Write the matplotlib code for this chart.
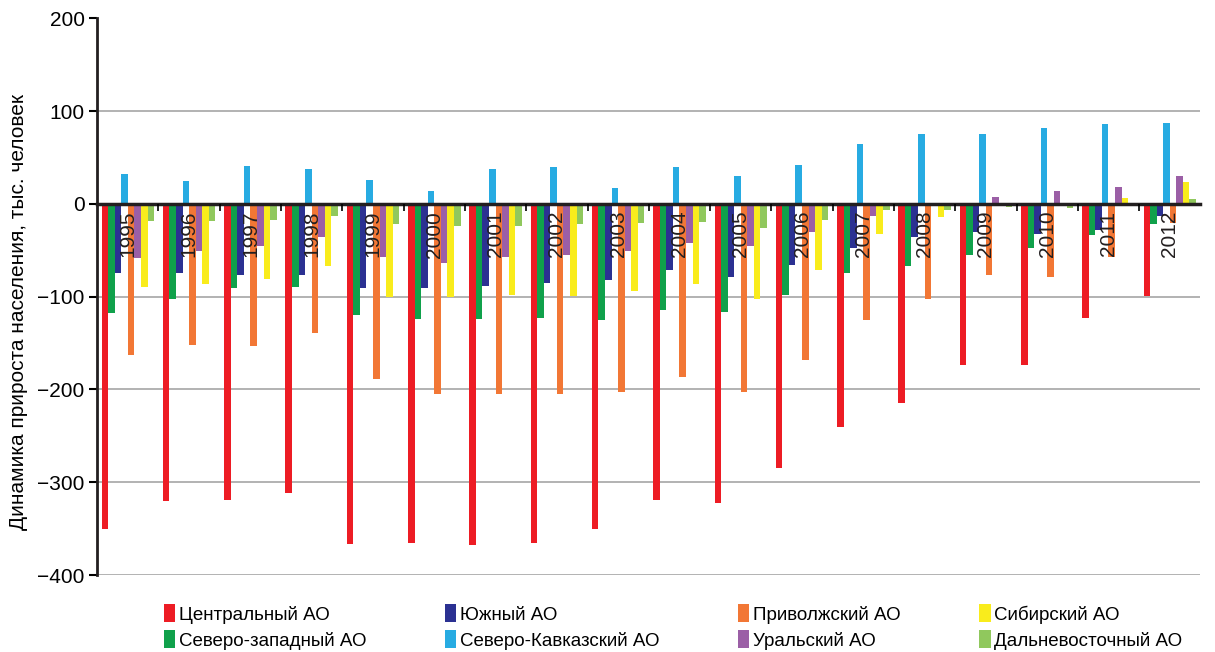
import matplotlib
matplotlib.use("Agg")
import matplotlib.pyplot as plt
import numpy as np

plt.rcParams['font.family'] = ['Liberation Sans', 'DejaVu Sans']

# data to plot
years = list(range(1995, 2013))
series = ['Центральный АО', 'Северо-западный АО', 'Южный АО', 'Северо-Кавказский АО',
          'Приволжский АО', 'Уральский АО', 'Сибирский АО', 'Дальневосточный АО']
central = [-350, -320, -319, -312, -366, -365, -368, -365, -350, -319, -322, -285, -240, -215, -174, -174, -123, -99]
northwest = [-118, -102, -91, -90, -120, -124, -124, -123, -125, -114, -116, -98, -74, -67, -55, -48, -34, -22]
south = [-75, -75, -77, -77, -91, -91, -88, -85, -82, -71, -79, -66, -48, -36, -30, -32, -28, -13]
ncaucasus = [32, 25, 41, 38, 26, 14, 38, 40, 17, 40, 30, 42, 64, 75, 75, 82, 86, 87]
volga = [-163, -152, -153, -139, -189, -205, -205, -205, -203, -187, -203, -168, -125, -102, -77, -79, -57, -21]
ural = [-58, -51, -45, -36, -57, -64, -57, -55, -51, -42, -45, -30, -13, -2, 7, 14, 18, 30]
siberia = [-90, -86, -81, -67, -100, -100, -98, -99, -94, -86, -102, -71, -33, -14, -1, -2, 6, 24]
fareast = [-18, -18, -17, -13, -22, -24, -24, -22, -21, -20, -26, -17, -7, -7, -3, -5, -2, 5]
values = [central, northwest, south, ncaucasus, volga, ural, siberia, fareast]
colors = ['#ED1C24', '#10A14B', '#2B3192', '#27ABE2', '#F27735', '#9B5FA6', '#F9EC1C', '#90C85D']

# create plot
fig = plt.figure(figsize=(12.15, 6.52), dpi=100)
ax = fig.add_axes([0.08, 0.118, 0.908, 0.854])
index = np.arange(len(years))
bar_width = 0.107

for i, (name, vals, c) in enumerate(zip(series, values, colors)):
    ax.bar(index + (i - 3.5) * bar_width, vals, bar_width, color=c, label=name, zorder=2)

# spines first (set_position resets the ticks)
for s in ['top', 'right']:
    ax.spines[s].set_visible(False)
ax.spines['bottom'].set_position(('data', 0))
ax.spines['bottom'].set_linewidth(2.5)
ax.spines['bottom'].set_color('#231f20')
ax.spines['bottom'].set_zorder(3)
ax.spines['left'].set_linewidth(2)
ax.spines['left'].set_color('#231f20')

# axes
ax.set_xlim(-0.5, len(years) - 0.5)
ax.set_ylim(-400, 200)
ax.set_yticks(np.arange(-400, 201, 100))
ax.set_yticklabels(['\u2212400', '\u2212300', '\u2212200', '\u2212100', '0', '100', '200'], fontsize=15)
ax.yaxis.grid(True, color='#a6a6a6', linewidth=1.2)
ax.yaxis.set_zorder(0.5)
ax.get_ygridlines()[-1].set_visible(False)
ax.set_xticks(index)
ax.set_xticklabels([str(y) for y in years])
ax.set_xticks(index[:-1] + 0.5, minor=True)
ax.xaxis.set_zorder(5)
ax.tick_params(axis='x', which='major', length=0, pad=5, labelrotation=90,
               labelsize=15, labelcolor='#231f20')
ax.tick_params(axis='x', which='minor', length=5, width=1.2, direction='out')
ax.tick_params(axis='y', length=6, width=1.5, direction='out', pad=3)
ax.set_ylabel('Динамика прироста населения, тыс. человек', fontsize=15)
ax.yaxis.set_label_coords(-0.063, 0.473)

# set legend
ax.legend(loc='upper center', bbox_to_anchor=(0.522, -0.022), ncol=4, frameon=False,
          handlelength=0.6, handleheight=1.1, handletextpad=0.2,
          columnspacing=4.2, labelspacing=0.35,
          prop={'family': ['Liberation Sans Narrow', 'Liberation Sans', 'DejaVu Sans'], 'size': 13.5})

plt.savefig('out.png', dpi=100)
